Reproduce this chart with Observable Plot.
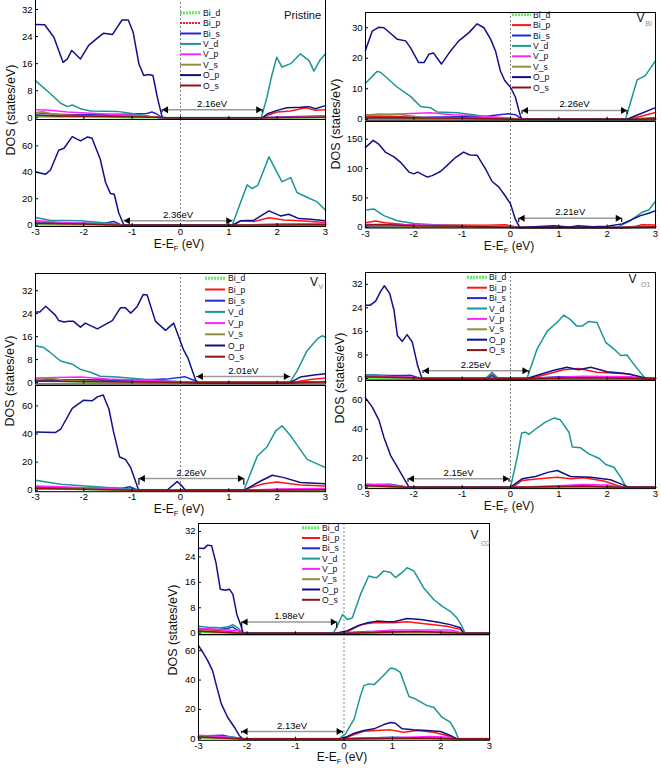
<!DOCTYPE html>
<html><head><meta charset="utf-8">
<script src="https://cdn.jsdelivr.net/npm/d3@7"></script>
<script src="https://cdn.jsdelivr.net/npm/@observablehq/plot@0.6"></script>
<style>
body{margin:0;background:#fff;}
#root{position:relative;width:661px;height:769px;overflow:hidden;background:#fff;font-family:"Liberation Sans",Arial,sans-serif;}
#root svg{position:absolute;overflow:visible;}
</style></head>
<body><div id="root"></div>
<script>
// ---------- series ----------
const seriesNames = ["Bi_d","Bi_p","Bi_s","V_d","V_p","V_s","O_p","O_s"];
const seriesColors = ["#5cf05c","#ff1414","#2626d2","#1a9696","#ff24ff","#8f8f40","#10108c","#8a1414"];
const energyTicks = [-3,-2,-1,0,1,2,3];

// ===== Pristine, upper =====
const pri_up_Bid = [[-3,0.3],[-2,0.2],[-0.4,0],[1.7,0],[3,0.1]];
const pri_up_Bip = [[-3,1.5],[-2.7,1.2],[-2.3,0.9],[-1.8,0.8],[-1.2,0.6],[-0.6,0.3],[-0.38,0],[1.69,0],[1.85,1.0],[2.0,1.7],[2.28,2.0],[2.59,3.0],[2.79,2.2],[3,2.4]];
const pri_up_Bis = [[-3,0.8],[-2.5,0.6],[-2,0.9],[-1.5,1.0],[-1,1.1],[-0.7,1.3],[-0.59,1.7],[-0.5,1.2],[-0.4,0.2],[-0.35,0],[1.7,0],[2.2,0.3],[3,0.5]];
const pri_up_Vd = [[-3,11],[-2.69,7.1],[-2.48,4.3],[-2.34,3.3],[-2.24,3.8],[-2.07,2.7],[-1.86,2.0],[-1.31,1.9],[-0.97,1.2],[-0.62,0.4],[-0.41,0],[1.67,0],[1.79,6.1],[1.88,12],[1.99,17.9],[2.1,15],[2.28,16],[2.48,18.9],[2.66,16.9],[2.76,13.8],[2.88,16.9],[3,18.9]];
const pri_up_Vp = [[-3,2.4],[-2.69,2.2],[-2.34,1.7],[-1.66,1.2],[-0.97,0.7],[-0.41,0],[1.7,0],[2.3,0.2],[3,0.5]];
const pri_up_Vs = [[-3,1.6],[-2.85,1.8],[-2.6,1.0],[-2.2,0.5],[-1.5,0.4],[-0.5,0.2],[-0.4,0],[1.7,0],[3,0.2]];
const pri_up_Op = [[-3,27.6],[-2.81,27.5],[-2.62,23.8],[-2.52,19.9],[-2.43,16.4],[-2.34,17.4],[-2.25,19.9],[-2.07,17.4],[-1.9,21.4],[-1.74,23.3],[-1.59,25],[-1.41,24.6],[-1.21,28.9],[-1.08,28.9],[-0.98,25.3],[-0.86,15.9],[-0.76,12.5],[-0.66,12.8],[-0.57,12.5],[-0.48,6.1],[-0.38,0.2],[-0.3,0],[1.69,0],[1.8,1.2],[2.0,2.2],[2.2,3.0],[2.48,3.1],[2.66,3.3],[2.79,2.7],[3,3.6]];
const pri_up_Os = [[-3,0.7],[-2.5,0.5],[-1.5,0.4],[-0.5,0.2],[-0.4,0],[1.7,0],[3,0.2]];
const pri_up_gap = [-0.38, 1.69, "2.16eV"];

// ===== Pristine, lower =====
const pri_lo_Bid = [[-3,0.4],[-1.2,0],[1.1,0],[3,0.2]];
const pri_lo_Bip = [[-3,2.5],[-2.5,1.5],[-2,1.2],[-1.5,0.8],[-1.17,0],[1.1,0],[1.24,3.3],[1.52,2.8],[1.83,5.6],[2.14,4],[2.48,3.3],[3,2]];
const pri_lo_Bis = [[-3,2],[-2.5,1.5],[-2,1.4],[-1.6,1.2],[-1.38,2.8],[-1.25,0.5],[-1.17,0],[1.07,0],[2,0.5],[3,0.8]];
const pri_lo_Vd = [[-3,5.8],[-2.7,3.8],[-2.07,3.3],[-1.66,2.0],[-1.25,0.3],[-1.17,0],[1.07,0],[1.24,17],[1.38,30.5],[1.48,27.7],[1.6,30.2],[1.83,51.7],[2.0,39.8],[2.1,32.8],[2.28,36],[2.41,24.7],[2.66,20.4],[2.83,17.6],[3,11.3]];
const pri_lo_Vp = [[-3,3.5],[-2.5,2.2],[-2,1.3],[-1.5,0.8],[-1.17,0],[1.1,0],[2,0.8],[3,1.2]];
const pri_lo_Vs = [[-3,1.5],[-2,0.8],[-1.2,0],[1.1,0],[3,0.3]];
const pri_lo_Op = [[-3,40.3],[-2.79,38.6],[-2.69,41.8],[-2.52,56.7],[-2.41,58.2],[-2.24,67],[-2.07,63.8],[-1.92,66.8],[-1.83,65.8],[-1.66,49.9],[-1.55,32.3],[-1.45,23.9],[-1.37,23.4],[-1.28,9.6],[-1.17,0],[1.07,0],[1.24,3.3],[1.52,3.8],[1.83,10.8],[2.07,7],[2.24,8.3],[2.45,5],[2.69,4.5],[3,3.3]];
const pri_lo_Os = [[-3,1.2],[-2,0.8],[-1.2,0],[1.1,0],[3,0.4]];
const pri_lo_gap = [-1.17, 1.07, "2.36eV"];

// ===== V_Bi, upper =====
const vbi_up_Bid = [[-3,0.2],[0.2,0],[2.45,0],[3,0.1]];
const vbi_up_Bip = [[-3,0.8],[-2.5,1.0],[-2,0.7],[-1,0.5],[0,0.3],[0.24,0],[2.45,0],[2.7,1.0],[3,2.2]];
const vbi_up_Bis = [[-3,0.5],[-2,0.6],[-1,0.8],[-0.5,1.0],[-0.05,1.8],[0.1,1.5],[0.24,0],[2.41,0],[3,0.5]];
const vbi_up_Vd = [[-3,11.8],[-2.76,15.7],[-2.69,15.4],[-2.34,10.5],[-2.07,7.5],[-1.86,4.2],[-1.66,3.8],[-1.52,2.4],[-1.1,2.1],[-0.69,1.3],[-0.41,0.5],[0,0.2],[0.22,0],[2.38,0],[2.62,12.9],[2.79,14.3],[3,19.2]];
const vbi_up_Vp = [[-3,1.2],[-2.6,1.5],[-2.2,1.8],[-1.66,2.1],[-1.2,1.5],[-0.5,1.0],[0.2,0],[2.45,0],[3,0.3]];
const vbi_up_Vs = [[-3,1.4],[-2.7,1.7],[-2.3,1.6],[-1.8,0.6],[-1,0.3],[0.2,0],[2.45,0],[3,0.2]];
const vbi_up_Op = [[-3,22.6],[-2.86,28.9],[-2.72,30.2],[-2.62,30],[-2.48,28.1],[-2.34,26.2],[-2.17,25.7],[-2.07,23.5],[-1.9,18.6],[-1.79,18.6],[-1.69,21.3],[-1.59,21.7],[-1.43,18.1],[-1.24,22.4],[-1.07,25.7],[-0.86,28.4],[-0.69,31.3],[-0.55,30],[-0.41,26.2],[-0.31,22.4],[-0.21,15.9],[-0.12,12.7],[0,10.5],[0.1,7.3],[0.21,0.8],[0.24,0],[2.41,0],[2.69,1.8],[3,3.8]];
const vbi_up_Os = [[-3,0.5],[-2,0.4],[-1,0.3],[0.2,0],[2.45,0],[3,0.2]];
const vbi_up_gap = [0.24, 2.41, "2.26eV"];

// ===== V_Bi, lower =====
const vbi_lo_Bid = [[-3,1],[0.2,0],[2.3,0],[3,0.5]];
const vbi_lo_Bip = [[-3,8],[-2.79,11],[-2.6,8],[-2.2,5],[-1.5,4],[-0.5,3.5],[-0.1,4.5],[0.1,1],[0.2,0],[2.3,0],[2.6,2],[2.72,4.6],[3,4]];
const vbi_lo_Bis = [[-3,1],[-1,1],[0,0.5],[0.2,0],[2.3,0],[3,1]];
const vbi_lo_Vd = [[-3,29.7],[-2.83,31.4],[-2.62,20],[-2.34,11.4],[-2,6.8],[-1.52,4],[-0.69,2.3],[0,1],[0.15,0],[2.2,0],[2.48,11.4],[2.72,25.7],[2.86,29.7],[3,44.5]];
const vbi_lo_Vp = [[-3,5],[-2.5,4.5],[-2,4],[-1,3],[0,1.5],[0.2,0],[2.3,0],[3,1]];
const vbi_lo_Vs = [[-3,3],[-2,2],[-1,1],[0.2,0],[2.3,0],[3,0.5]];
const vbi_lo_Op = [[-3,135.8],[-2.84,148],[-2.72,141],[-2.59,128],[-2.41,120],[-2.28,111],[-2.1,94],[-2,91],[-1.92,94],[-1.72,85.6],[-1.62,88],[-1.45,95],[-1.31,105.5],[-1.14,118.7],[-0.97,128],[-0.84,123],[-0.69,122.6],[-0.52,100],[-0.38,78],[-0.24,68.5],[-0.1,52.5],[0,40],[0.1,14],[0.19,0],[0.5,1],[0.9,3],[1.2,0.5],[1.4,3],[1.7,1],[2.0,2],[2.31,6],[2.69,20],[2.86,24],[3,28.5]];
const vbi_lo_Os = [[-3,4],[-2.7,5],[-2,3],[-1,2],[0.2,0],[2.3,0],[3,1]];
const vbi_lo_gap = [0.17, 2.3, "2.21eV"];

// ===== V_V, upper =====
const vv_up_Bid = [[-3,0.8],[-2.6,0.6],[-2,0.2],[0.3,0],[2.3,0],[3,0.1]];
const vv_up_Bip = [[-3,1.2],[-2.5,1.0],[-1.5,0.6],[-0.5,0.4],[0.3,0],[2.3,0],[2.69,1.1],[3,1.6]];
const vv_up_Bis = [[-3,0.8],[-2,1.0],[-1,0.8],[-0.3,1.2],[0.1,2.0],[0.25,1.0],[0.36,0],[2.26,0],[3,0.4]];
const vv_up_Vd = [[-3,12.8],[-2.83,12.2],[-2.69,10.4],[-2.48,7.5],[-2.24,6.4],[-2.07,4.6],[-1.86,3.6],[-1.66,2.2],[-1.31,1.9],[-0.83,1.2],[-0.41,0.7],[0.3,0],[2.26,0],[2.41,4],[2.62,11.1],[2.83,15.2],[2.93,16.3],[3,15.8]];
const vv_up_Vp = [[-3,1.6],[-2.6,1.8],[-2.07,1.9],[-1.5,1.2],[-0.3,0.5],[0.3,0],[2.3,0],[3,0.3]];
const vv_up_Vs = [[-3,1.0],[-2.7,1.5],[-2.4,0.8],[-1.5,0.3],[0.3,0],[2.3,0],[3,0.2]];
const vv_up_Op = [[-3,24.6],[-2.91,24.6],[-2.79,26.6],[-2.59,23.5],[-2.52,21.6],[-2.41,21.1],[-2.31,21.4],[-2.22,21.4],[-2.07,19.3],[-1.97,20.7],[-1.72,18.7],[-1.41,21.6],[-1.24,26.1],[-1.14,26.1],[-1.03,24.2],[-0.9,26.4],[-0.77,30.7],[-0.69,30.5],[-0.52,21.4],[-0.31,18.2],[-0.14,20.7],[0.06,11.5],[0.15,8.7],[0.31,1],[0.36,0],[2.26,0],[2.48,1.9],[2.76,2.6],[3,3.1]];
const vv_up_Os = [[-3,0.5],[-1.5,0.3],[0.3,0],[2.3,0],[3,0.2]];
const vv_up_gap = [0.34, 2.26, "2.01eV"];

// ===== V_V, lower =====
const vv_lo_Bid = [[-3,1.0],[-2.5,1.2],[-2,0.5],[-0.9,0],[1.35,0],[3,0.2]];
const vv_lo_Bip = [[-3,2.5],[-2,1.5],[-1,0.5],[-0.86,0],[1.35,0],[1.4,1.4],[1.72,4.7],[2.0,5.9],[2.48,3.8],[3,3.1]];
const vv_lo_Bis = [[-3,2],[-2,1.5],[-1.2,1.5],[-1.05,2.5],[-0.9,0.5],[-0.86,0],[1.31,0],[3,1]];
const vv_lo_Vd = [[-3,7.1],[-2.48,4.3],[-1.66,2.4],[-0.97,0.7],[-0.86,0],[1.31,0],[1.59,24.4],[1.79,30.8],[1.97,42.2],[2.1,45.8],[2.28,38.7],[2.62,22],[3,16.1]];
const vv_lo_Vp = [[-3,3.1],[-2.5,2.5],[-1.66,1.4],[-0.9,0],[1.35,0],[2,1],[3,1.2]];
const vv_lo_Vs = [[-3,1.5],[-2,1],[-0.9,0],[1.35,0],[3,0.3]];
const vv_lo_Op = [[-3,41.5],[-2.59,41],[-2.48,43.4],[-2.24,58.3],[-2.01,64],[-1.83,63.6],[-1.72,66.4],[-1.6,67.8],[-1.48,57.6],[-1.39,42.2],[-1.26,23.7],[-1.14,22],[-1.03,16.1],[-0.88,1.4],[-0.86,0],[-0.28,0],[-0.07,6.2],[0.03,3.1],[0.1,0],[1.31,0],[1.66,6.6],[1.9,10.7],[2.14,9],[2.48,5.5],[3,4.7]];
const vv_lo_Os = [[-3,1.2],[-2,0.8],[-0.9,0],[1.35,0],[3,0.4]];
const vv_lo_gap = [-0.86, 1.31, "2.26eV"];

// ===== V_O1, upper =====
const vo1_up_Bid = [[-3,0.2],[-1.83,0],[0.4,0],[3,0]];
const vo1_up_Bip = [[-3,0.8],[-2.5,0.6],[-2,0.3],[-1.83,0],[-0.5,0],[-0.38,1.3],[-0.27,0],[0.4,0],[0.69,1.2],[1.1,3],[1.41,3.4],[1.79,2.1],[2.48,1.5],[2.75,0],[3,0]];
const vo1_up_Bis = [[-3,1.2],[-2.5,1.0],[-2.2,1.0],[-2.07,1.1],[-1.95,0.5],[-1.83,0],[-0.5,0],[-0.38,1.0],[-0.28,0],[0.34,0],[1,0.6],[2,0.5],[2.8,0],[3,0]];
const vo1_up_Vd = [[-3,1.1],[-2.76,1.1],[-2.4,0.6],[-2,0.3],[-1.83,0],[-0.52,0],[-0.38,2.1],[-0.25,0],[0.34,0],[0.55,10],[0.76,16.1],[0.97,19.2],[1.1,21.5],[1.24,20],[1.37,17.8],[1.48,17.8],[1.62,19.4],[1.79,19],[1.97,12.3],[2.14,10],[2.28,7.8],[2.41,8],[2.52,5.5],[2.66,2.6],[2.79,0],[3,0]];
const vo1_up_Vp = [[-3,0.7],[-2,0.4],[-1.83,0],[0.4,0],[1.5,0.8],[2.5,0.6],[2.8,0],[3,0]];
const vo1_up_Vs = [[-3,0.5],[-1.83,0],[0.4,0],[2,0.3],[2.8,0],[3,0]];
const vo1_up_Op = [[-3,24.9],[-2.9,24.9],[-2.79,26.3],[-2.69,29.5],[-2.61,31.5],[-2.5,28.9],[-2.41,23.2],[-2.34,14.6],[-2.24,12.6],[-2.14,14.9],[-2.03,12.3],[-1.92,4.3],[-1.83,0],[0.34,0],[0.69,1.8],[0.9,2.8],[1.17,3.8],[1.41,3],[1.66,3.8],[2.0,2.3],[2.34,1.8],[2.62,0.9],[2.83,0],[3,0]];
const vo1_up_Os = [[-3,0.6],[-2,0.3],[-1.83,0],[0.4,0],[1.5,0.3],[2.8,0],[3,0]];
const vo1_up_gap = [-1.81, 0.37, "2.25eV"];

// ===== V_O1, lower =====
const vo1_lo_Bid = [[-3,0.5],[-2.15,0],[0.1,0],[3,0]];
const vo1_lo_Bip = [[-3,1.5],[-2.5,1.2],[-2.15,0],[0.05,0],[0.24,4.6],[0.59,5.8],[0.97,6.9],[1.24,5.8],[1.52,6.5],[1.93,4.2],[2.21,1.2],[2.35,0],[3,0]];
const vo1_lo_Bis = [[-3,1.5],[-2.5,2],[-2.2,0.5],[-2.15,0],[0.1,0],[1.5,1],[2.3,0],[3,0]];
const vo1_lo_Vd = [[-3,1.8],[-2.69,1.8],[-2.34,1.2],[-2.15,0],[0,0],[0.14,20.8],[0.23,37.4],[0.31,38],[0.38,36.5],[0.48,39.2],[0.72,45],[0.9,47.8],[1.03,46.6],[1.21,38],[1.28,27.7],[1.45,27.2],[1.62,23],[1.83,20],[1.97,15.7],[2.14,13.8],[2.28,6.9],[2.38,0.5],[2.45,0],[3,0]];
const vo1_lo_Vp = [[-3,2],[-2.5,1.5],[-2.15,0],[0.1,0],[1.0,1],[1.5,1.8],[2.0,1.5],[2.3,0],[3,0]];
const vo1_lo_Vs = [[-3,1],[-2.15,0],[0.1,0],[1.5,0.5],[2.3,0],[3,0]];
const vo1_lo_Op = [[-3,61.8],[-2.86,55.4],[-2.72,46.2],[-2.62,34.6],[-2.48,21.9],[-2.34,13.8],[-2.2,5.8],[-2.1,0],[0,0],[0.24,5.8],[0.52,7.4],[0.79,10.4],[0.97,11.5],[1.24,7.4],[1.66,6.9],[2.07,5.1],[2.28,2.3],[2.41,0.5],[2.48,0],[3,0]];
const vo1_lo_Os = [[-3,1.2],[-2.15,0],[0.1,0],[1.5,0.6],[2.3,0],[3,0]];
const vo1_lo_gap = [-2.12, -0.03, "2.15eV"];

// ===== V_O2, upper =====
const vo2_up_Bid = [[-3,0.3],[-2.08,0],[0,0],[3,0]];
const vo2_up_Bip = [[-3,1.2],[-2.5,0.8],[-2.08,0],[0,0],[0.07,0.4],[0.34,2.7],[0.62,3.3],[1.03,3.3],[1.3,3.6],[1.71,2.9],[2.12,2.2],[2.4,1.2],[2.47,0],[3,0]];
const vo2_up_Bis = [[-3,1.5],[-2.6,1.2],[-2.4,1.5],[-2.3,2.0],[-2.2,1.0],[-2.08,0],[-0.17,0],[0.5,0.5],[2.3,0.3],[2.5,0],[3,0]];
const vo2_up_Vd = [[-3,2.2],[-2.81,1.9],[-2.53,1.7],[-2.4,2],[-2.29,2.7],[-2.19,1.7],[-2.08,0],[-0.22,0],[-0.14,2.2],[-0.03,5.9],[0.07,4.3],[0.17,4.8],[0.34,12.2],[0.51,18],[0.62,17.5],[0.68,17.5],[0.82,19.6],[0.96,19.1],[1.06,17.5],[1.2,19.1],[1.3,20.6],[1.44,19.6],[1.64,14.3],[1.85,10.6],[2.02,8.5],[2.19,6.9],[2.33,4.8],[2.43,2.2],[2.5,0],[3,0]];
const vo2_up_Vp = [[-3,1.5],[-2.12,0.8],[-2.08,0],[0,0],[0.6,0.5],[1.0,1.0],[2.2,1.0],[2.45,0],[3,0]];
const vo2_up_Vs = [[-3,0.8],[-2.08,0],[0,0],[1.5,0.4],[2.45,0],[3,0]];
const vo2_up_Op = [[-3,26.7],[-2.89,26.6],[-2.81,27.7],[-2.73,27.5],[-2.64,22.2],[-2.55,13.8],[-2.45,13.5],[-2.36,13.8],[-2.29,12.2],[-2.21,5.9],[-2.12,2.2],[-2.08,0],[-0.17,0],[0.07,0.8],[0.27,2.2],[0.48,3.3],[0.68,3.8],[0.89,3.6],[1.03,3.6],[1.3,4.6],[1.58,4.3],[1.92,3.5],[2.19,2.7],[2.4,1.7],[2.47,0],[3,0]];
const vo2_up_Os = [[-3,0.6],[-2.08,0],[0,0],[1.5,0.5],[2.45,0],[3,0]];
const vo2_up_gap = [-2.11, -0.15, "1.98eV"];

// ===== V_O2, lower =====
const vo2_lo_Bid = [[-3,0.5],[-2.12,0],[0,0],[3,0]];
const vo2_lo_Bip = [[-3,2],[-2.5,1.5],[-2.12,0],[0,0],[0.15,2.3],[0.41,5.2],[0.68,5.7],[0.96,6.1],[1.23,4.5],[1.51,5.7],[1.85,4.5],[2.12,2.3],[2.3,0],[3,0]];
const vo2_lo_Bis = [[-3,2],[-2.5,2.5],[-2.3,1],[-2.12,0],[0,0],[1,1],[2.3,0],[3,0]];
const vo2_lo_Vd = [[-3,1.6],[-2.75,1.1],[-2.4,1.6],[-2.26,1.1],[-2.12,0],[-0.1,0],[0.03,3.4],[0.21,13.6],[0.34,29.4],[0.41,36.2],[0.51,37.4],[0.62,36.9],[0.79,42.3],[0.96,48.2],[1.06,47.5],[1.16,45.3],[1.34,28.8],[1.47,27.2],[1.71,22.6],[1.85,21.5],[2.02,14.7],[2.19,11.3],[2.29,5.7],[2.36,0],[3,0]];
const vo2_lo_Vp = [[-3,2.5],[-2.5,1.5],[-2.12,0],[0,0],[1.0,0.8],[1.8,1.5],[2.2,1],[2.35,0],[3,0]];
const vo2_lo_Vs = [[-3,1],[-2.12,0],[0,0],[1.5,0.5],[2.35,0],[3,0]];
const vo2_lo_Op = [[-3,63.4],[-2.91,58.9],[-2.81,53.2],[-2.71,46.4],[-2.64,37.4],[-2.53,23.8],[-2.4,14.7],[-2.26,7.9],[-2.16,2.3],[-2.09,0],[-0.07,0],[0.07,1.6],[0.21,3.8],[0.41,5.7],[0.62,6.8],[0.82,9.7],[0.96,11.1],[1.06,10.6],[1.2,6.8],[1.44,6.1],[1.71,5.7],[1.99,5],[2.19,2.3],[2.33,0],[3,0]];
const vo2_lo_Os = [[-3,1.2],[-2.12,0],[0,0],[1.5,0.6],[2.35,0],[3,0]];
const vo2_lo_gap = [-2.11, -0.03, "2.13eV"];

// y tick labels
const ticks32 = [0,8,16,24,32];
const ticks30 = [0,10,20,30];
const ticks60 = [0,20,40,60];
const ticks150 = [0,50,100,150];

// ---------- layout ----------
const FONT = '"Liberation Sans", Arial, sans-serif';
const root = document.getElementById("root");

function subplot(series, gap, yDom, yTicks, fx, fy, fw, fh, level, showX) {
  const ml = 30, mr = 4, mt = 3, mb = showX ? 22 : 3;
  const [lo, hi] = gap;
  const marks = [
    Plot.ruleX([0], {stroke: "#777", strokeDasharray: "2,2", strokeWidth: 0.9})
  ];
  series.forEach((pts, i) => {
    marks.push(Plot.line(pts, {x: p => p[0], y: p => p[1], stroke: seriesColors[i], strokeWidth: i === 0 ? 2 : 1.5}));
  });
  marks.push(
    Plot.ruleX([lo, hi], {x: v => v, y1: () => 0, y2: () => level, stroke: "#000", strokeWidth: 1.2, insetTop: -5}),
    Plot.link([gap], {x1: g => g[0], x2: g => g[1], y1: () => level, y2: () => level, stroke: "#9a9a9a", strokeWidth: 1.5}),
    Plot.dot([lo], {x: v => v, y: () => level, symbol: "triangle", r: 2.6, fill: "#000", stroke: "none", rotate: -90, dx: 3.9}),
    Plot.dot([hi], {x: v => v, y: () => level, symbol: "triangle", r: 2.6, fill: "#000", stroke: "none", rotate: 90, dx: -3.9}),
    Plot.text([gap], {x: g => (g[0] + g[1]) / 2, y: () => level, text: g => g[2], dy: -6, fontSize: 9.5, fill: "#000"}),
    Plot.axisY(yTicks, {anchor: "left", tickSize: -3, tickPadding: 6, label: null, tickFormat: d => String(d), fontSize: 9.5}),
    Plot.axisX(energyTicks, {anchor: "bottom", tickSize: -3, tickPadding: 5, label: null, tickFormat: showX ? (d => String(d)) : (() => ""), fontSize: 9.5}),
    Plot.frame({stroke: "#000", strokeWidth: 1})
  );
  const svg = Plot.plot({
    width: fw + ml + mr, height: fh + mt + mb,
    marginLeft: ml, marginRight: mr, marginTop: mt, marginBottom: mb,
    style: {fontFamily: FONT, fontSize: "9.5px", background: "transparent", color: "#000"},
    x: {domain: [-3, 3], label: null},
    y: {domain: yDom, label: null},
    marks
  });
  svg.style.left = (fx - ml) + "px";
  svg.style.top = (fy - mt) + "px";
  root.appendChild(svg);
}

const panels = [
  {fx: 35, fw: 290,
   up: {s: [pri_up_Bid, pri_up_Bip, pri_up_Bis, pri_up_Vd, pri_up_Vp, pri_up_Vs, pri_up_Op, pri_up_Os], gap: pri_up_gap, yDom: [-0.5, 35.25], ticks: ticks32, fy: -2, fh: 121, level: 2.4},
   lo: {s: [pri_lo_Bid, pri_lo_Bip, pri_lo_Bis, pri_lo_Vd, pri_lo_Vp, pri_lo_Vs, pri_lo_Op, pri_lo_Os], gap: pri_lo_gap, yDom: [-1, 80], ticks: ticks60, fy: 119, fh: 107, level: 3.3}},
  {fx: 365, fw: 290,
   up: {s: [vbi_up_Bid, vbi_up_Bip, vbi_up_Bis, vbi_up_Vd, vbi_up_Vp, vbi_up_Vs, vbi_up_Op, vbi_up_Os], gap: vbi_up_gap, yDom: [-0.3, 35], ticks: ticks30, fy: 12.3, fh: 107.7, level: 2.9},
   lo: {s: [vbi_lo_Bid, vbi_lo_Bip, vbi_lo_Bis, vbi_lo_Vd, vbi_lo_Vp, vbi_lo_Vs, vbi_lo_Op, vbi_lo_Os], gap: vbi_lo_gap, yDom: [-1, 180], ticks: ticks150, fy: 121, fh: 106.5, level: 15.4}},
  {fx: 35, fw: 290,
   up: {s: [vv_up_Bid, vv_up_Bip, vv_up_Bis, vv_up_Vd, vv_up_Vp, vv_up_Vs, vv_up_Op, vv_up_Os], gap: vv_up_gap, yDom: [-0.5, 38], ticks: ticks32, fy: 273.3, fh: 110.5, level: 2.1},
   lo: {s: [vv_lo_Bid, vv_lo_Bip, vv_lo_Bis, vv_lo_Vd, vv_lo_Vp, vv_lo_Vs, vv_lo_Op, vv_lo_Os], gap: vv_lo_gap, yDom: [-1, 74.5], ticks: ticks60, fy: 384.5, fh: 106.2, level: 8.3}},
  {fx: 365, fw: 290,
   up: {s: [vo1_up_Bid, vo1_up_Bip, vo1_up_Bis, vo1_up_Vd, vo1_up_Vp, vo1_up_Vs, vo1_up_Op, vo1_up_Os], gap: vo1_up_gap, yDom: [-0.5, 36], ticks: ticks32, fy: 271.7, fh: 107.5, level: 2.6},
   lo: {s: [vo1_lo_Bid, vo1_lo_Bip, vo1_lo_Bis, vo1_lo_Vd, vo1_lo_Vp, vo1_lo_Vs, vo1_lo_Op, vo1_lo_Os], gap: vo1_lo_gap, yDom: [-1, 73.8], ticks: ticks60, fy: 380, fh: 108.1, level: 5.8}},
  {fx: 197.5, fw: 291,
   up: {s: [vo2_up_Bid, vo2_up_Bip, vo2_up_Bis, vo2_up_Vd, vo2_up_Vp, vo2_up_Vs, vo2_up_Op, vo2_up_Os], gap: vo2_up_gap, yDom: [-0.5, 34.5], ticks: ticks32, fy: 522.7, fh: 111.3, level: 3.5},
   lo: {s: [vo2_lo_Bid, vo2_lo_Bip, vo2_lo_Bis, vo2_lo_Vd, vo2_lo_Vp, vo2_lo_Vs, vo2_lo_Op, vo2_lo_Os], gap: vo2_lo_gap, yDom: [-1, 71], ticks: ticks60, fy: 634, fh: 105.8, level: 5}}
];

for (const p of panels) {
  subplot(p.up.s, p.up.gap, p.up.yDom, p.up.ticks, p.fx, p.up.fy, p.fw, p.up.fh, p.up.level, false);
  subplot(p.lo.s, p.lo.gap, p.lo.yDom, p.lo.ticks, p.fx, p.lo.fy, p.fw, p.lo.fh, p.lo.level, true);
}

// ---------- overlay text (axis titles, panel titles, legends) ----------
const NS = "http://www.w3.org/2000/svg";
const ov = document.createElementNS(NS, "svg");
ov.setAttribute("width", 661); ov.setAttribute("height", 769);
ov.style.left = "0px"; ov.style.top = "0px";
ov.setAttribute("font-family", FONT);
root.appendChild(ov);
function el(tag, attrs, parent = ov) {
  const e = document.createElementNS(NS, tag);
  for (const k in attrs) e.setAttribute(k, attrs[k]);
  parent.appendChild(e);
  return e;
}
function txt(s, attrs, parent = ov) { const t = el("text", attrs, parent); t.textContent = s; return t; }

const yLabelPos = [[11, 110], [336, 124], [10, 381], [340, 378], [173, 630]];
for (const [x, y] of yLabelPos) {
  txt("DOS (states/eV)", {transform: `translate(${x},${y}) rotate(-90)`, "text-anchor": "middle", dy: "0.35em", "font-size": 12.5, fill: "#111"});
}
const xLabelPos = [[179, 248], [509, 249.5], [179, 512.7], [509, 510.1], [342, 761]];
for (const [x, y] of xLabelPos) {
  const t = el("text", {x, y, "text-anchor": "middle", "font-size": 12, fill: "#111"});
  const a = el("tspan", {}, t); a.textContent = "E-E";
  const b = el("tspan", {dy: 3, "font-size": 7.5}, t); b.textContent = "F";
  const c = el("tspan", {dy: -3}, t); c.textContent = " (eV)";
}

// panel titles
txt("Pristine", {x: 284, y: 19, "font-size": 11.2, fill: "#111"});
const subTitles = [[636.5, 21.7, "Bi", 645.5, 26], [310, 286, "V", 318.5, 288.5], [628.5, 282.5, "O1", 641, 287], [470.5, 539, "O2", 481, 545.5]];
for (const [x, y, s, sx, sy] of subTitles) {
  txt("V", {x, y, "font-size": 12, fill: "#111"});
  txt(s, {x: sx, y: sy, "font-size": 7, fill: "#888"});
}

// legends
const legendPos = [[180, 201, 203, 12.7, 10.4, true], [512, 531, 533, 14.7, 10.4, false], [205, 225, 228, 278.3, 11.2, false], [467, 487, 489, 277.3, 10.4, false], [302, 320, 322, 527.7, 10.3, false]];
for (const [x1, x2, tx, y0, dy, dottedP] of legendPos) {
  seriesNames.forEach((n, i) => {
    const y = y0 + i * dy;
    const attrs = {x1, x2, y1: y, y2: y, stroke: seriesColors[i], "stroke-width": i === 0 ? 3 : 2};
    if (i === 0 || (i === 1 && dottedP)) attrs["stroke-dasharray"] = "2,1";
    el("line", attrs);
    txt(n, {x: tx, y, dy: "0.35em", "font-size": 8.6, fill: "#0d0d2a"});
  });
}
</script>
</body></html>
